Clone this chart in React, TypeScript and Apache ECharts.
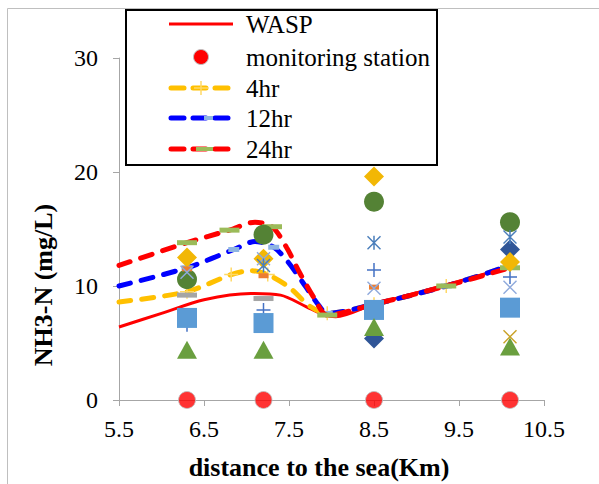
import React, { useEffect, useRef } from 'react';
import * as echarts from 'echarts';

// ---- axis ticks ----
const xTicks = [5.5, 6.5, 7.5, 8.5, 9.5, 10.5];
const yTicks = [0, 10, 20, 30];

// ---- legend labels ----
const legendNames = ['WASP', 'monitoring station', '4hr', '12hr', '24hr'];

// ---- model curves ----
const waspX = [5.5, 6.0, 6.5, 7.05, 7.4, 7.7, 7.9, 8.05, 8.5, 9.3, 10.1];
const waspY = [6.4, 7.6, 8.8, 9.35, 9.2, 8.2, 7.5, 7.3, 8.4, 10.0, 11.7];

const h4X = [5.5, 6.3, 6.82, 7.05, 7.25, 7.5, 7.75, 7.95, 8.5, 9.35, 10.1];
const h4Y = [8.6, 9.5, 11.0, 11.35, 11.0, 9.9, 8.2, 7.6, 8.4, 10.0, 11.8];
const h4Mark = [0, 1, 1, 0, 1, 0, 0, 1, 1, 1, 1];

const h12X = [5.5, 6.3, 6.85, 7.1, 7.32, 7.5, 7.7, 7.85, 7.95, 8.5, 9.35, 10.1];
const h12Y = [10.0, 11.6, 13.2, 13.9, 13.4, 12.0, 9.9, 8.3, 7.6, 8.4, 10.0, 11.8];
const h12Mark = [0, 1, 1, 0, 1, 0, 0, 0, 1, 1, 1, 1];

const h24X = [5.5, 6.3, 6.8, 7.1, 7.3, 7.47, 7.63, 7.8, 7.95, 8.5, 9.35, 10.1];
const h24Y = [11.8, 13.8, 14.9, 15.6, 15.2, 13.4, 11.1, 8.9, 7.45, 8.4, 10.0, 11.6];
const h24Mark = [0, 1, 1, 0, 1, 0, 0, 0, 1, 1, 1, 1];

// ---- monitoring stations ----
const stationX = [6.3, 7.2, 8.5, 10.1];
const stationY = [0, 0, 0, 0];

// ---- measured values (by marker) ----
const darkDiamond = [[8.5, 5.4], [10.1, 13.2]];
const bluePlus = [[6.3, 6.6], [7.2, 7.9], [8.5, 11.4], [10.1, 10.8]];
const blueSquare = [[6.3, 7.2], [7.2, 6.75], [8.5, 7.9], [10.1, 8.1]];
const greenTriangle = [[6.3, 4.4], [7.2, 4.4], [8.5, 6.4], [10.1, 4.7]];
const greenCircle = [[6.3, 10.6], [7.2, 14.5], [8.5, 17.4], [10.1, 15.6]];
const yellowDiamond = [[6.3, 12.5], [7.2, 12.4], [8.5, 19.6], [10.1, 12.1]];
const orangeDash = [[6.3, 11.5], [7.2, 10.9], [8.5, 9.9]];
const grayDash = [[6.3, 9.2], [7.2, 8.9]];
const lightX = [[6.3, 11.2], [7.2, 12.4], [8.5, 9.8], [10.1, 9.9]];
const steelStar = [[7.2, 11.8], [8.5, 13.8], [10.1, 14.3]];
const goldX = [[10.1, 5.55]];

const PLUS = 'path://M6.25,0h1.5v14h-1.5zM0,6.25h14v1.5h-14z';
const CROSS = 'path://M0,1L1,0L14,13L13,14ZM13,0L14,1L1,14L0,13Z';
const STAR = 'path://M0,1L1,0L14,13L13,14ZM13,0L14,1L1,14L0,13ZM6.25,0h1.5v14h-1.5z';

const FONT = '"Liberation Serif", "Times New Roman", serif';
const DASH = [12, 11];

function curveData(xs: number[], ys: number[], marks: number[] | null, sym: string) {
  return xs.map((x, i) => ({
    value: [x, ys[i]],
    symbol: marks && marks[i] ? sym : 'none',
  }));
}

function scatter(name: string, data: number[][], symbol: string, size: any, color: string, z: number) {
  return {
    name,
    type: 'scatter',
    data,
    symbol,
    symbolSize: size,
    itemStyle: { color, opacity: 1 },
    z,
  };
}

function legendGraphic() {
  const rowY = [24, 57, 88, 118, 149];
  const x0 = 169;
  const x1 = 233;
  const textX = 246;
  const els: any[] = [
    {
      type: 'rect',
      shape: { x: 126, y: 10, width: 311, height: 155 },
      style: { fill: '#ffffff', stroke: '#000000', lineWidth: 2 },
    },
    {
      type: 'line',
      shape: { x1: x0, y1: rowY[0], x2: x1, y2: rowY[0] },
      style: { stroke: '#ff0000', lineWidth: 3 },
    },
    {
      type: 'circle',
      shape: { cx: 201, cy: rowY[1], r: 7.5 },
      style: { fill: '#ff0000', stroke: '#bfbfbf', lineWidth: 1 },
    },
    {
      type: 'line',
      shape: { x1: x0 + 2, y1: rowY[2], x2: x1 - 2, y2: rowY[2] },
      style: { stroke: '#ffc000', lineWidth: 5, lineDash: [13, 9], lineCap: 'round' },
    },
    {
      type: 'line',
      shape: { x1: 201, y1: rowY[2] - 7, x2: 201, y2: rowY[2] + 7 },
      style: { stroke: '#ffd966', lineWidth: 1.5 },
    },
    {
      type: 'line',
      shape: { x1: 194, y1: rowY[2], x2: 208, y2: rowY[2] },
      style: { stroke: '#ffd966', lineWidth: 1.5 },
    },
    {
      type: 'line',
      shape: { x1: x0 + 2, y1: rowY[3], x2: x1 - 2, y2: rowY[3] },
      style: { stroke: '#0000ff', lineWidth: 5, lineDash: [13, 9], lineCap: 'round' },
    },
    {
      type: 'rect',
      shape: { x: 204, y: rowY[3] - 2, width: 9, height: 4 },
      style: { fill: '#8db4e2' },
    },
    {
      type: 'line',
      shape: { x1: x0 + 2, y1: rowY[4], x2: x1 - 2, y2: rowY[4] },
      style: { stroke: '#ff0000', lineWidth: 5, lineDash: [13, 9], lineCap: 'round' },
    },
    {
      type: 'rect',
      shape: { x: 196, y: rowY[4] - 2, width: 17, height: 4 },
      style: { fill: '#9bbb59' },
    },
  ];
  legendNames.forEach((n, i) => {
    els.push({
      type: 'text',
      x: textX,
      y: rowY[i],
      style: {
        text: n,
        font: `25px ${FONT}`,
        fill: '#000',
        align: 'left',
        verticalAlign: 'middle',
      },
    });
  });
  return { type: 'group', z: 50, children: els };
}

export default function App() {
  const ref = useRef<HTMLDivElement>(null);
  useEffect(() => {
    const chart = echarts.init(ref.current!, null, { renderer: 'svg' });
    const option: any = {
      animation: false,
      backgroundColor: '#ffffff',
      grid: { left: 119, right: 55, top: 58, bottom: 84, containLabel: false },
      xAxis: {
        type: 'value',
        min: 5.5,
        max: 10.5,
        axisLine: { show: true, onZero: false, lineStyle: { color: '#a6a6a6', width: 1 } },
        axisTick: { show: true, customValues: xTicks, length: 6, inside: false, lineStyle: { color: '#a6a6a6' } },
        axisLabel: {
          customValues: xTicks,
          margin: 17,
          fontFamily: FONT,
          fontSize: 24,
          color: '#000',
          formatter: (v: number) => v.toFixed(1),
        },
        splitLine: { show: false },
      },
      yAxis: {
        type: 'value',
        min: 0,
        max: 30,
        interval: 10,
        axisLine: { show: true, lineStyle: { color: '#a6a6a6', width: 1 } },
        axisTick: { show: true, length: 6, lineStyle: { color: '#a6a6a6' } },
        axisLabel: {
          margin: 21,
          fontFamily: FONT,
          fontSize: 24,
          color: '#000',
          formatter: (v: number) => (yTicks.includes(v) ? String(v) : ''),
        },
        splitLine: { show: false },
      },
      graphic: [
        {
          type: 'rect',
          shape: { x: 7.5, y: 8.5, width: 640, height: 520 },
          style: { fill: 'none', stroke: '#bfbfbf', lineWidth: 1 },
          silent: true,
          z: -10,
        },
        {
          type: 'text',
          x: 43,
          y: 285,
          rotation: Math.PI / 2,
          style: {
            text: 'NH3-N (mg/L)',
            font: `bold 26px ${FONT}`,
            fill: '#000',
            align: 'center',
            verticalAlign: 'middle',
          },
        },
        {
          type: 'text',
          x: 319,
          y: 467,
          style: {
            text: 'distance to the sea(Km)',
            font: `bold 26px ${FONT}`,
            fill: '#000',
            align: 'center',
            verticalAlign: 'middle',
          },
        },
        legendGraphic(),
      ],
      series: [
        {
          name: 'WASP',
          type: 'line',
          data: curveData(waspX, waspY, null, 'none'),
          smooth: 0.3,
          symbol: 'none',
          lineStyle: { color: '#ff0000', width: 3 },
          itemStyle: { color: '#ff0000' },
          z: 2,
        },
        {
          name: '4hr',
          type: 'line',
          data: curveData(h4X, h4Y, h4Mark, PLUS),
          smooth: 0.3,
          symbol: PLUS,
          symbolSize: 14,
          showSymbol: true,
          lineStyle: { color: '#ffc000', width: 5, type: DASH, cap: 'round' },
          itemStyle: { color: '#ffd966' },
          z: 3,
        },
        {
          name: '12hr',
          type: 'line',
          data: curveData(h12X, h12Y, h12Mark, 'rect'),
          smooth: 0.3,
          symbol: 'rect',
          symbolSize: [11, 5],
          showSymbol: true,
          lineStyle: { color: '#0000ff', width: 5, type: DASH, cap: 'round' },
          itemStyle: { color: '#8db4e2' },
          z: 4,
        },
        {
          name: '24hr',
          type: 'line',
          data: curveData(h24X, h24Y, h24Mark, 'rect'),
          smooth: 0.3,
          symbol: 'rect',
          symbolSize: [20, 5],
          showSymbol: true,
          lineStyle: { color: '#ff0000', width: 5, type: DASH, cap: 'round' },
          itemStyle: { color: '#9bbb59' },
          z: 5,
        },
        scatter('d1', darkDiamond, 'diamond', 20, '#2f5597', 6),
        scatter('d2', bluePlus, PLUS, 14, '#4472c4', 6),
        scatter('d3', blueSquare, 'rect', 20, '#5b9bd5', 7),
        scatter('d4', greenTriangle, 'triangle', [20, 18], '#6a9f3f', 8),
        scatter('d5', greenCircle, 'circle', 20, '#548235', 9),
        scatter('d6', yellowDiamond, 'diamond', 20, '#f2b705', 10),
        scatter('d7', orangeDash, 'rect', [10, 5], '#ed7d31', 11),
        scatter('d8', grayDash, 'rect', [20, 5], '#a5a5a5', 11),
        scatter('d9', lightX, CROSS, 14, '#8faadc', 12),
        scatter('d10', steelStar, STAR, 14, '#4a7ebb', 12),
        scatter('d11', goldX, CROSS, 14, '#c9a227', 12),
        {
          name: 'monitoring station',
          type: 'scatter',
          data: stationX.map((x, i) => [x, stationY[i]]),
          symbol: 'circle',
          symbolSize: 17,
          itemStyle: { color: '#ff0000', borderColor: '#bfbfbf', borderWidth: 1 },
          z: 13,
        },
      ],
    };
    chart.setOption(option);
    return () => chart.dispose();
  }, []);
  return (
    <div
      ref={ref}
      style={{ position: 'fixed', left: 0, top: 0, width: 599, height: 484, background: '#fff' }}
    />
  );
}
